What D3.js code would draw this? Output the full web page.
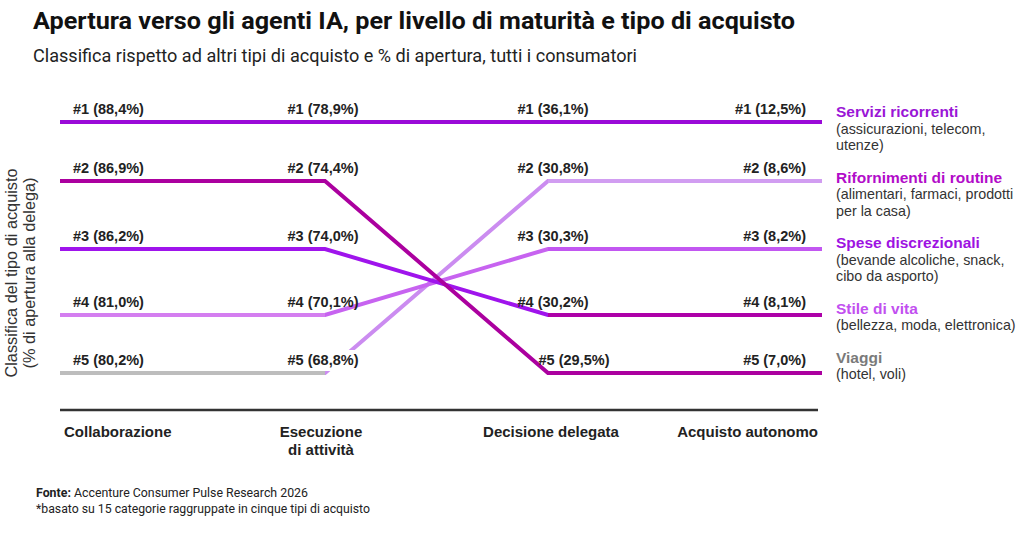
<!DOCTYPE html>
<html>
<head>
<meta charset="utf-8">
<script src="https://cdn.jsdelivr.net/npm/d3@7"></script>
<style>
  html, body { margin: 0; padding: 0; background: #fff; }
  svg { display: block; }
</style>
</head>
<body>
<div id="chart"></div>
<script>
// ---------------- DATA ----------------
const stages = ["Collaborazione", "Esecuzione\ndi attività", "Decisione delegata", "Acquisto autonomo"];
const ranks = [1, 2, 3, 4, 5];

// % of openness for each rank position, per stage
const valCollaborazione = [88.4, 86.9, 86.2, 81.0, 80.2];
const valEsecuzione     = [78.9, 74.4, 74.0, 70.1, 68.8];
const valDecisione      = [36.1, 30.8, 30.3, 30.2, 29.5];
const valAcquisto       = [12.5, 8.6, 8.2, 8.1, 7.0];

// rank path of each line across the four stages
const line1Ranks = [1, 1, 1, 1];
const line2Ranks = [2, 2, 5, 5];
const line3Ranks = [3, 3, 4, 4];
const line4Ranks = [4, 4, 3, 3];
const line5Ranks = [5, 5, 2, 2];

const legendNames = ["Servizi ricorrenti", "Rifornimenti di routine", "Spese discrezionali", "Stile di vita", "Viaggi"];
const legendDescs = [
  ["(assicurazioni, telecom,", "utenze)"],
  ["(alimentari, farmaci, prodotti", "per la casa)"],
  ["(bevande alcoliche, snack,", "cibo da asporto)"],
  ["(bellezza, moda, elettronica)"],
  ["(hotel, voli)"]
];

const titleText = "Apertura verso gli agenti IA, per livello di maturità e tipo di acquisto";
const subtitleText = "Classifica rispetto ad altri tipi di acquisto e % di apertura, tutti i consumatori";
const yTitleLines = ["Classifica del tipo di acquisto", "(% di apertura alla delega)"];
const sourceLabel = "Fonte:";
const sourceText = " Accenture Consumer Pulse Research 2026";
const noteText = "*basato su 15 categorie raggruppate in cinque tipi di acquisto";

// ---------------- STYLE / LAYOUT ----------------
const W = 1024, H = 534;
const lineRanks = [line1Ranks, line2Ranks, line3Ranks, line4Ranks, line5Ranks];
// colours for [left flat, diagonal, right flat] of each line
const segColors = [
  ["#9a0ad8", "#9a0ad8", "#9a0ad8"],
  ["#ab009f", "#ab009f", "#ab009f"],
  ["#9f14ec", "#9f14ec", "#ad00a8"],
  ["#d47ef0", "#c763f0", "#c257f1"],
  ["#bdbdbd", "#cb8cf0", "#d19df1"]
];
const legendColors = ["#9a16d6", "#b20cc9", "#9e12e2", "#c24ff0", "#7a7a7a"];
const drawOrder = [4, 3, 2, 1, 0];
const stageValues = [valCollaborazione, valEsecuzione, valDecisione, valAcquisto];
const knockout = [[1, 5]]; // label boxes that mask lines behind them

const svg = d3.select("#chart").append("svg")
  .attr("width", W).attr("height", H)
  .attr("viewBox", `0 0 ${W} ${H}`);

const x = d3.scaleOrdinal().domain(d3.range(stages.length)).range([60, 325, 548, 822]);
const y = d3.scaleOrdinal().domain(ranks).range([122, 181, 249, 315, 373]);

const locale = d3.formatLocale({ decimal: ",", thousands: ".", grouping: [3], currency: ["", "€"] });
const fmt = locale.format(".1f");

const sansFont = "'Liberation Sans', Arial, Helvetica, sans-serif";
const headFont = "Roboto, 'Liberation Sans', Arial, sans-serif";

// ---------------- TITLES ----------------
svg.append("text")
  .attr("x", 33).attr("y", 29)
  .attr("font-family", headFont).attr("font-weight", 700).attr("font-size", 23.5)
  .attr("fill", "#111")
  .attr("textLength", 762).attr("lengthAdjust", "spacingAndGlyphs")
  .text(titleText);

svg.append("text")
  .attr("x", 33).attr("y", 62)
  .attr("font-family", headFont).attr("font-weight", 400).attr("font-size", 17.5)
  .attr("fill", "#222")
  .attr("textLength", 604).attr("lengthAdjust", "spacingAndGlyphs")
  .text(subtitleText);

// ---------------- Y AXIS TITLE ----------------
const yTitle = svg.append("g").attr("transform", "translate(0,273)");
yTitle.selectAll("text").data(yTitleLines).join("text")
  .attr("transform", (d, i) => `translate(${16.5 + i * 18},0) rotate(-90)`)
  .attr("text-anchor", "middle")
  .attr("font-family", sansFont).attr("font-size", 16.3)
  .attr("fill", "#333")
  .text(d => d);

// ---------------- BOTTOM AXIS ----------------
const axisG = svg.append("g").attr("transform", "translate(0,410)");
axisG.append("line")
  .attr("x1", x(0)).attr("x2", x(3) - 4)
  .attr("stroke", "#333").attr("stroke-width", 2.5);

const colAnchor = ["start", "middle", "middle", "end"];
const colDx = [4, -4, 3, -4];
stages.forEach((s, i) => {
  const t = axisG.append("text")
    .attr("x", x(i) + colDx[i]).attr("y", 27)
    .attr("text-anchor", colAnchor[i])
    .attr("font-family", sansFont).attr("font-weight", 700).attr("font-size", 15)
    .attr("fill", "#222");
  s.split("\n").forEach((ln, k) => {
    t.append("tspan").attr("x", x(i) + colDx[i]).attr("dy", k === 0 ? 0 : 18).text(ln);
  });
});

// ---------------- LINES ----------------
const lineGen = d3.line();
const linesG = svg.append("g").attr("fill", "none").attr("stroke-width", 4);
drawOrder.forEach(i => {
  const pts = lineRanks[i].map((r, s) => [x(s), y(r)]);
  const cols = segColors[i];
  linesG.append("path")
    .attr("d", lineGen(pts))
    .attr("stroke", cols[1])
    .attr("stroke-linejoin", "miter");
  if (cols[0] !== cols[1]) {
    linesG.append("path").attr("d", lineGen([pts[0], pts[1]])).attr("stroke", cols[0]);
  }
  if (cols[2] !== cols[1]) {
    linesG.append("path").attr("d", lineGen([pts[2], pts[3]])).attr("stroke", cols[2]);
  }
});

// ---------------- VALUE LABELS ----------------
const labAnchor = ["start", "middle", "middle", "end"];
const labDx = [13, -2, 5, -16];
const labelsG = svg.append("g")
  .attr("font-family", sansFont).attr("font-weight", 700).attr("font-size", 14.5)
  .attr("fill", "#222");

stageValues.forEach((vals, s) => {
  vals.forEach((v, k) => {
    const r = ranks[k];
    const extra = (s === 2 && r === 5) ? 21 : 0;
    const t = labelsG.append("text")
      .attr("x", x(s) + labDx[s] + extra)
      .attr("y", y(r) - 8)
      .attr("text-anchor", labAnchor[s])
      .text(`#${r} (${fmt(v)}%)`);
    if (knockout.some(([ks, kr]) => ks === s && kr === r)) {
      const b = t.node().getBBox();
      labelsG.insert("rect", () => t.node())
        .attr("x", b.x - 3).attr("y", b.y - 2)
        .attr("width", b.width + 4).attr("height", b.height + 5)
        .attr("fill", "#fff");
    }
  });
});

// ---------------- LEGEND ----------------
const legendG = svg.append("g").attr("transform", "translate(836,0)");
let ly = 117;
legendNames.forEach((name, i) => {
  legendG.append("text")
    .attr("x", 0).attr("y", ly)
    .attr("font-family", sansFont).attr("font-weight", 700).attr("font-size", 15.5)
    .attr("fill", legendColors[i])
    .text(name);
  legendDescs[i].forEach(line => {
    ly += 16.5;
    legendG.append("text")
      .attr("x", 0).attr("y", ly)
      .attr("font-family", sansFont).attr("font-size", 14.3)
      .attr("fill", "#333")
      .text(line);
  });
  ly += 32.5;
});

// ---------------- FOOTER ----------------
const src = svg.append("text")
  .attr("x", 36).attr("y", 497)
  .attr("font-family", headFont).attr("font-size", 12.5)
  .attr("fill", "#222")
  .attr("textLength", 272).attr("lengthAdjust", "spacingAndGlyphs");
src.append("tspan").attr("font-weight", 700).text(sourceLabel);
src.append("tspan").text(sourceText);

svg.append("text")
  .attr("x", 36).attr("y", 513)
  .attr("font-family", headFont).attr("font-size", 12.5)
  .attr("fill", "#222")
  .attr("textLength", 334).attr("lengthAdjust", "spacingAndGlyphs")
  .text(noteText);
</script>
</body>
</html>
